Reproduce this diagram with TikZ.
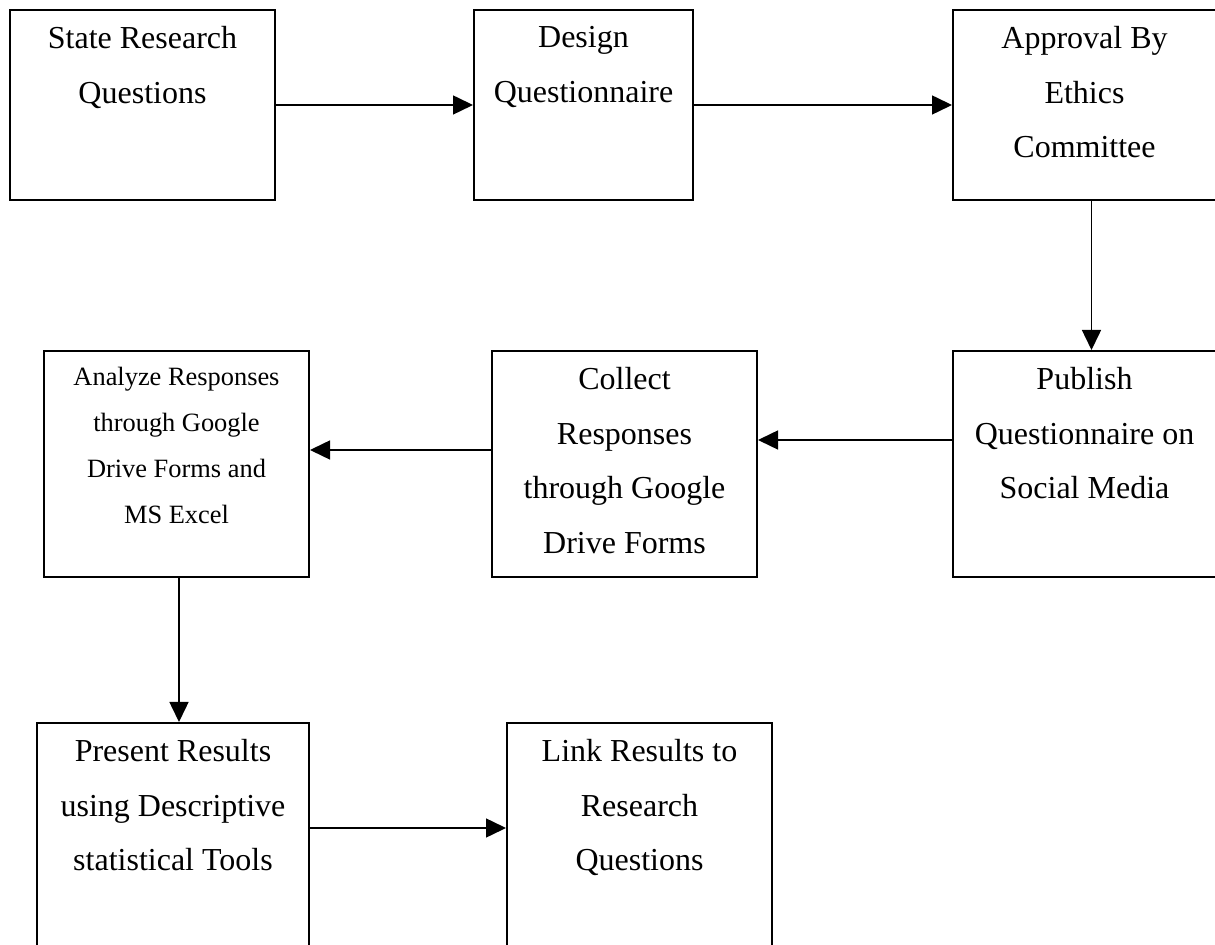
\documentclass[tikz,border=0pt]{standalone}
\usepackage{fontspec}
\setmainfont{Liberation Serif}
\usetikzlibrary{arrows.meta}

\begin{document}
\begin{tikzpicture}[x=0.5pt,y=-0.5pt,->,>={Triangle[length=10pt,width=9.5pt]},line width=0.75pt,
  stepbox/.style={draw,line width=1pt,inner sep=0pt,minimum height=#1},
  wide/.style={minimum width=132.5pt},
  lbl/.style={anchor=north,align=center,inner sep=0pt,yshift=-8.5pt,
    font=\fontsize{16}{27.25}\selectfont},
  small lbl/.style={anchor=north,align=center,inner sep=0pt,yshift=-8pt,
    font=\fontsize{13.2}{23}\selectfont}]
  \useasboundingbox (0,0) rectangle (1215,945);
  % top row
  \node[stepbox=95pt, wide, label={[lbl]north:State Research\\Questions}] (state) at (142.5,105) {};
  \node[stepbox=95pt, minimum width=109.5pt, label={[lbl]north:Design\\Questionnaire}] (design) at (583.5,105) {};
  \node[stepbox=95pt, minimum width=131.5pt, label={[lbl]north:Approval By\\Ethics\\Committee}] (ethics) at (1084.5,105) {};
  % middle row
  \node[stepbox=113pt, minimum width=131.5pt, label={[lbl]north:Publish\\Questionnaire on\\Social Media}] (publish) at (1084.5,464) {};
  \node[stepbox=113pt, wide, label={[lbl]north:Collect\\Responses\\through Google\\Drive Forms}] (collect) at (624.5,464) {};
  \node[stepbox=113pt, wide, label={[small lbl]north:Analyze Responses\\through Google\\Drive Forms and\\MS Excel}] (analyze) at (176.5,464) {};
  % bottom row
  \node[stepbox=113.5pt, minimum width=136pt, label={[lbl]north:Present Results\\using Descriptive\\statistical Tools}] (present) at (173,836.5) {};
  \node[stepbox=113.5pt, wide, label={[lbl]north:Link Results to\\Research\\Questions}] (link) at (639.5,836.5) {};

  \draw (state) -- (design);
  \draw (design) -- (ethics);
  \draw ([xshift=3.5pt]ethics.south) -- ([xshift=3.5pt]publish.north);
  \draw ([yshift=12pt]publish.west) -- ([yshift=12pt]collect.east);
  \draw ([yshift=7pt]collect.west) -- ([yshift=7pt]analyze.east);
  \draw ([xshift=1.25pt]analyze.south) -- ([xshift=1.25pt]analyze.south |- present.north);
  \draw ([yshift=4.25pt]present.east) -- ([yshift=4.25pt]present.east -| link.west);
\end{tikzpicture}
\end{document}
